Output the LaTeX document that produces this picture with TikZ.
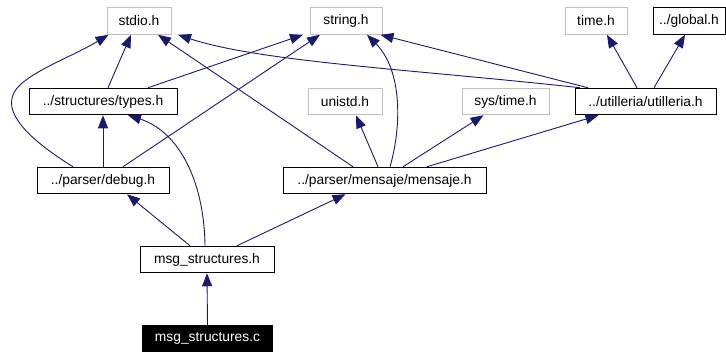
\documentclass[tikz,border=0pt]{standalone}
\usepackage{fontspec}
\setmainfont{Liberation Sans}
\usetikzlibrary{arrows.meta}
\definecolor{edgeblue}{HTML}{191970}
\definecolor{extgray}{HTML}{BFBFBF}
\begin{document}
\begin{tikzpicture}[x=1pt,y=-1pt,
  filebox/.style={draw, line width=1pt, inner sep=0pt, minimum height=26.5pt,
    font=\fontsize{13.8}{16}\selectfont},
  extbox/.style={filebox, draw=extgray},
  localbox/.style={filebox, draw=black},
  rootbox/.style={filebox, draw=black, fill=black, text=white},
  dep/.style={draw=edgeblue, line width=0.9pt,
    -{Triangle[length=13pt,width=10pt]}}]
\useasboundingbox (0,0) rectangle (726,351);

% header files, top row
\node[extbox,   minimum width=64pt]  (stdio)  at (139,21)    {stdio.h};
\node[extbox,   minimum width=72pt]  (string) at (346,21)    {string.h};
\node[extbox,   minimum width=62pt]  (time)   at (596,21)    {time.h};
\node[localbox, minimum width=72pt]  (global) at (689,21)    {../global.h};
% second row
\node[localbox, minimum width=148pt] (types)  at (103,101.5) {../structures/types.h};
\node[extbox,   minimum width=74pt]  (unistd) at (345,101.5) {unistd.h};
\node[extbox,   minimum width=87pt]  (systime) at (505.5,101.5) {sys/time.h};
\node[localbox, minimum width=141pt] (util)   at (645.5,101.5) {../utilleria/utilleria.h};
% third row
\node[localbox, minimum width=132pt] (debug)  at (103,180.5) {../parser/debug.h};
\node[localbox, minimum width=203pt] (mensaje) at (384.5,180.5) {../parser/mensaje/mensaje.h};
% module header and source
\node[localbox, minimum width=134pt] (msgh)   at (207,259.5) {msg\_structures.h};
\node[rootbox,  minimum width=130pt] (msgc)   at (207.5,338.5) {msg\_structures.c};

% ../structures/types.h
\draw[dep] ([xshift=5pt]types.north) -- ([xshift=-8pt]stdio.south);
\draw[dep] ([xshift=45pt]types.north) -- ([xshift=-43pt]string.south);

% ../parser/debug.h
\draw[dep] ([xshift=-30pt]debug.north) .. controls (30,140) and (5,115) .. (13,95)
  .. controls (20,75) and (70,58) .. ([xshift=2pt]stdio.south west);
\draw[dep] (debug.north) -- (types.south);
\draw[dep] ([xshift=20pt]debug.north) -- ([xshift=-26pt]string.south);

% ../parser/mensaje/mensaje.h
\draw[dep] ([xshift=-31.5pt]mensaje.north) -- ([xshift=19pt]stdio.south);
\draw[dep] ([xshift=-6.5pt]mensaje.north) -- ([xshift=11pt]unistd.south);
\draw[dep] ([xshift=5.5pt]mensaje.north) .. controls (402,125) and (402,70) .. ([xshift=21pt]string.south);
\draw[dep] ([xshift=18.5pt]mensaje.north) -- ([xshift=-22pt]systime.south);
\draw[dep] ([xshift=42.5pt]mensaje.north) -- ([xshift=-47pt]util.south);

% ../utilleria/utilleria.h
\draw[dep] ([xshift=-65.5pt]util.north) .. controls (420,70) and (260,62) .. ([xshift=39pt]stdio.south);
\draw[dep] ([xshift=-57.5pt]util.north) -- ([xshift=-2pt]string.south east);
\draw[dep] ([xshift=-8.5pt]util.north) -- ([xshift=11pt]time.south);
\draw[dep] ([xshift=8.5pt]util.north) -- ([xshift=-4pt]global.south);

% msg_structures.h
\draw[dep] ([xshift=-17pt]msgh.north) -- ([xshift=24pt]debug.south);
\draw[dep] ([xshift=-2pt]msgh.north) .. controls (204,175) and (175,130) .. ([xshift=25pt]types.south);
\draw[dep] ([xshift=30pt]msgh.north) -- ([xshift=-39pt]mensaje.south);

% msg_structures.c
\draw[dep] (msgc.north) -- (msgh.south);
\end{tikzpicture}
\end{document}
